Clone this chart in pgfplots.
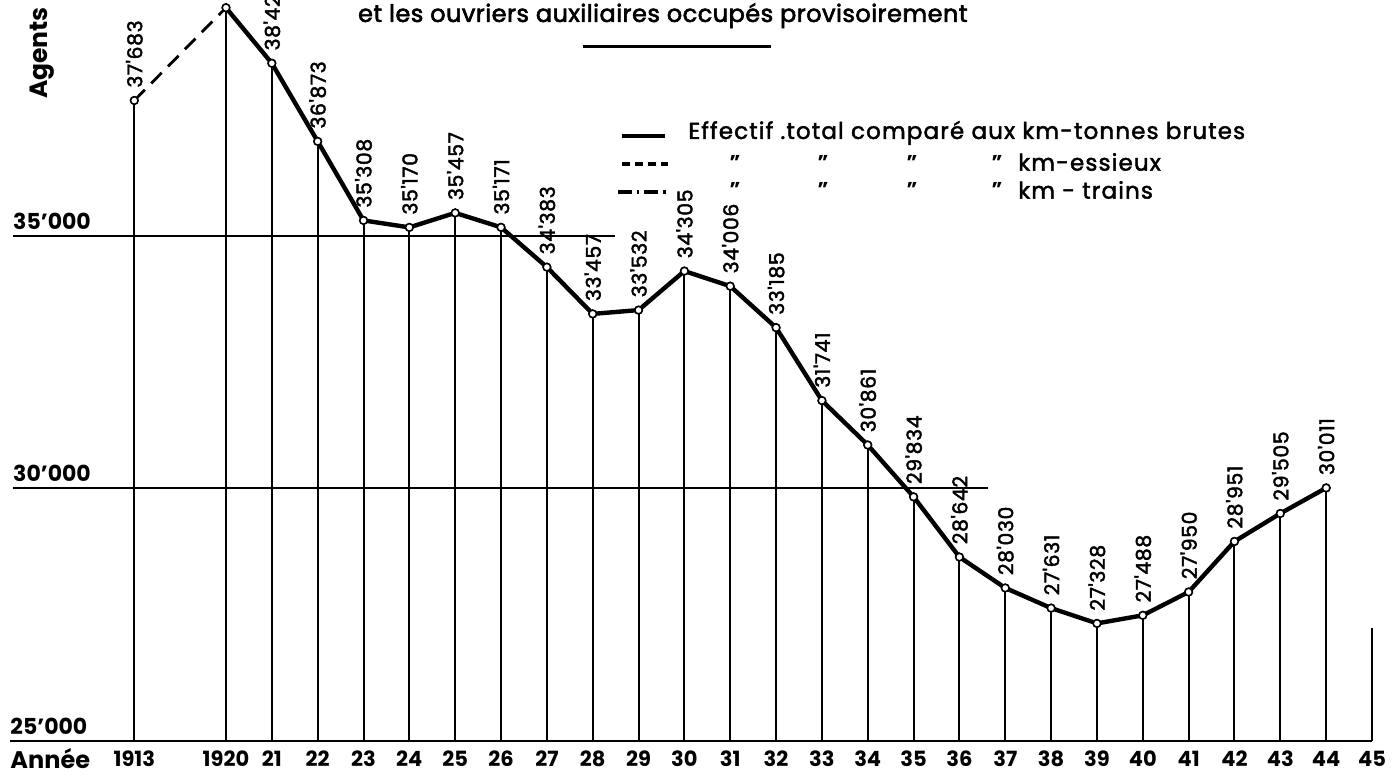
\documentclass[border=0pt]{standalone}
\usepackage{fontspec}
\setmainfont{Poppins}
\newfontfamily\titlefont{Poppins}[FakeBold=2.5, LetterSpace=2]
\newfontfamily\legfont{Poppins}[FakeBold=2, LetterSpace=5]
\newfontfamily\labfont{Poppins}[FakeBold=2, LetterSpace=3]
\usepackage{pgfplots}
\pgfplotsset{compat=1.18}
\usepackage{pgfplotstable}

\pgfplotstableread{
x v lab
18 37683 37'683
20 39520 {}
21 38420 38'42
22 36873 36'873
23 35308 35'308
24 35170 35'170
25 35457 35'457
26 35171 35'171
27 34383 34'383
28 33457 33'457
29 33532 33'532
30 34305 34'305
31 34006 34'006
32 33185 33'185
33 31741 31'741
34 30861 30'861
35 29834 29'834
36 28642 28'642
37 28030 28'030
38 27631 27'631
39 27328 27'328
40 27488 27'488
41 27950 27'950
42 28951 28'951
43 29505 29'505
44 30011 30'011
}\data

\begin{document}
\begin{tikzpicture}
\begin{axis}[
  scale only axis, width=698pt, height=389pt,
  xmin=15.07, xmax=45.524, ymin=24267, ymax=39673,
  hide axis, clip=false,
]
% horizontal reference lines
\addplot[black, line width=1pt] coordinates {(15.29,25000)(45,25000)};
\addplot[black, line width=1pt] coordinates {(15.35,30000)(36.62,30000)};
\addplot[black, line width=1pt] coordinates {(15.35,35000)(28.49,35000)};
\addplot[black, line width=1pt] coordinates {(45,25000)(45,27238)};
% drop lines
\addplot[only marks, mark=none, error bars/.cd, y dir=minus, y explicit, error mark=none,
  error bar style={solid, draw=black, line width=1pt}]
  table[x=x, y=v, y error expr=\thisrow{v}-25000] {\data};
% curve
\addplot[black, line width=1.4pt, dash pattern=on 7.5pt off 4.5pt] coordinates {(18,37683)(20,39520)};
\addplot[black, line width=2.2pt, line join=round, restrict x to domain=20:44] table[x=x, y=v] {\data};
% marks and labels
\addplot[only marks, mark=*, mark size=1.9pt, mark options={fill=white, draw=black, line width=0.8pt},
  point meta=explicit symbolic, nodes near coords,
  every node near coord/.style={rotate=90, anchor=west, inner xsep=6pt, inner ysep=0pt,
    font=\labfont\fontsize{10.2}{11}\selectfont, text=black}]
  table[x=x, y=v, meta=lab] {\data};
% y labels
\node[anchor=south west, inner sep=0pt, yshift=3pt, font=\bfseries\fontsize{11}{12}\selectfont] at (axis cs:15.35,35000) {35'000};
\node[anchor=south west, inner sep=0pt, yshift=3pt, font=\bfseries\fontsize{11}{12}\selectfont] at (axis cs:15.35,30000) {30'000};
\node[anchor=south west, inner sep=0pt, yshift=3pt, font=\bfseries\fontsize{11}{12}\selectfont] at (axis cs:15.29,25000) {25'000};
\node[rotate=90, font=\bfseries\fontsize{12.5}{13}\selectfont] at (axis cs:15.986,38624) {Agents};
% x labels
\node[anchor=west, inner sep=0pt, font=\bfseries\fontsize{12}{13}\selectfont] at (axis cs:15.29,24644) {Année};
\node[font=\bfseries\fontsize{10.5}{11}\selectfont] at (axis cs:18,24644) {1913};
\node[font=\bfseries\fontsize{10.5}{11}\selectfont] at (axis cs:20,24644) {1920};
\pgfplotsinvokeforeach{21,...,45}{\node[font=\bfseries\fontsize{10.5}{11}\selectfont] at (axis cs:#1,24644) {#1};}
% title
\node[anchor=base, font=\titlefont\fontsize{12}{14}\selectfont] at (axis cs:29.53,39238) {et les ouvriers auxiliaires occupés provisoirement};
\addplot[black, line width=1.5pt] coordinates {(27.788,38743)(31.889,38743)};
% legend
\addplot[black, line width=1.8pt] coordinates {(28.639,36980)(29.577,36980)};
\addplot[black, line width=1.6pt, dash pattern=on 4pt off 2.5pt] coordinates {(28.639,36426)(29.642,36426)};
\addplot[black, line width=1.6pt, dash pattern=on 7pt off 2.5pt on 1.2pt off 2.5pt] coordinates {(28.551,35871)(29.642,35871)};
\node[anchor=west, inner sep=0pt, font=\legfont\fontsize{11.5}{12}\selectfont] at (axis cs:30.079,37040) {Effectif .total comparé aux km-tonnes brutes};
\pgfplotsinvokeforeach{36465,35911}{
  \node[font=\bfseries\fontsize{10}{10}\selectfont] at (axis cs:31.104,#1) {”};
  \node[font=\bfseries\fontsize{10}{10}\selectfont] at (axis cs:33.024,#1) {”};
  \node[font=\bfseries\fontsize{10}{10}\selectfont] at (axis cs:34.965,#1) {”};
  \node[font=\bfseries\fontsize{10}{10}\selectfont] at (axis cs:36.819,#1) {”};
}
\node[anchor=west, inner sep=0pt, font=\legfont\fontsize{11.5}{12}\selectfont] at (axis cs:37.277,36465) {km-essieux};
\node[anchor=west, inner sep=0pt, font=\legfont\fontsize{11.5}{12}\selectfont] at (axis cs:37.277,35911) {km - trains};
\end{axis}
\pgfresetboundingbox
\path (current axis.south west) rectangle (current axis.north east);
\end{tikzpicture}
\end{document}
